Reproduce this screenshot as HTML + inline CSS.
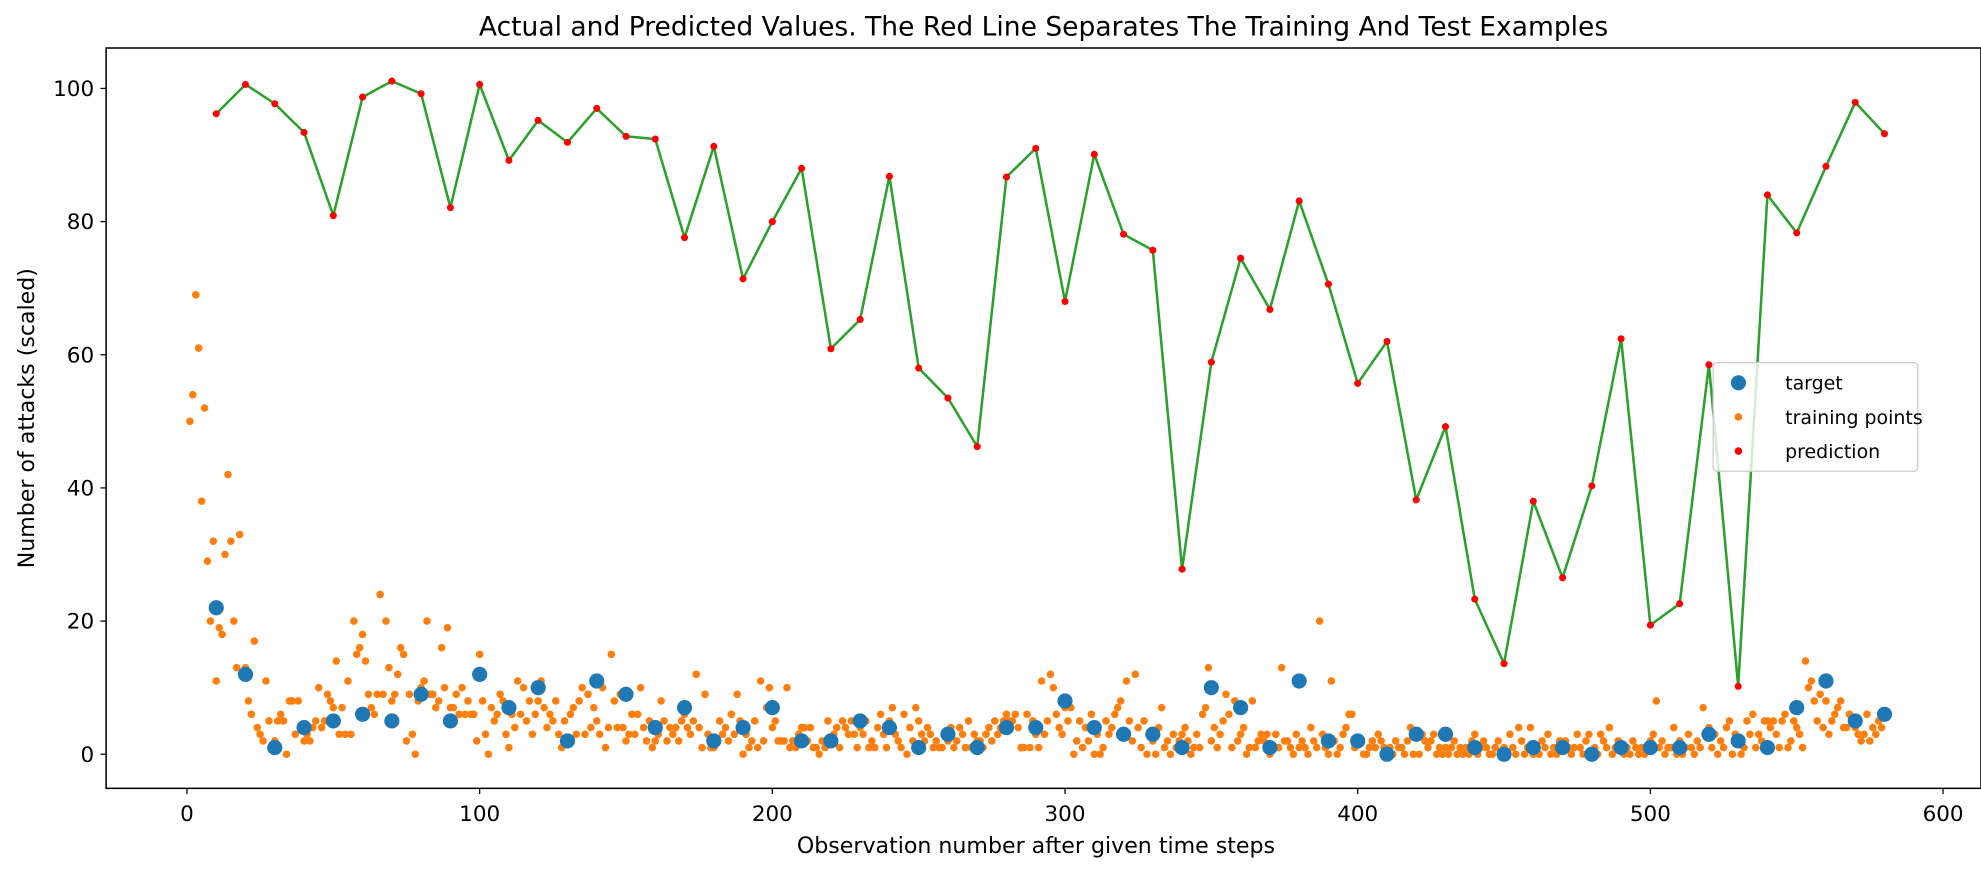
<!DOCTYPE html>
<html><head><meta charset="utf-8"><style>
html,body{margin:0;padding:0;background:#fff;}
svg{display:block;font-family:"DejaVu Sans","Liberation Sans",sans-serif;}
</style></head><body>
<svg id="chart" width="1981" height="874" xmlns="http://www.w3.org/2000/svg">
<rect x="0" y="0" width="1981" height="874" fill="#fff"/>
<g id="root" transform="scale(1.26337)">
<text x="826" y="28" text-anchor="middle" font-size="21" fill="#000">Actual and Predicted Values. The Red Line Separates The Training And Test Examples</text>
<g id="plot"></g>
<rect x="84" y="38" width="1484" height="586" fill="none" stroke="#000" stroke-width="1.2"/>
<text x="820" y="675" text-anchor="middle" font-size="17.5">Observation number after given time steps</text>
<text x="27" y="331" text-anchor="middle" font-size="17.5" transform="rotate(-90 27 331)">Number of attacks (scaled)</text>
<g>
<rect x="1356" y="287" width="162" height="86" fill="#fff" fill-opacity="0.8" stroke="#ccc" rx="3"/>
<circle cx="1376" cy="303" r="6" fill="#1f77b4"/>
<text x="1413" y="308.5" font-size="15">target</text>
<circle cx="1376" cy="330" r="3" fill="#ff7f0e"/>
<text x="1413" y="335.5" font-size="15">training points</text>
<circle cx="1376" cy="357" r="3" fill="red"/>
<text x="1413" y="362.5" font-size="15">prediction</text>
</g>
</g>
</svg>
<script>
const xTicks=[0,100,200,300,400,500,600];
const yTicks=[0,20,40,60,80,100];
const testX=[10,20,30,40,50,60,70,80,90,100,110,120,130,140,150,160,170,180,190,200,210,220,230,240,250,260,270,280,290,300,310,320,330,340,350,360,370,380,390,400,410,420,430,440,450,460,470,480,490,500,510,520,530,540,550,560,570,580];
const predicted=[96.2,100.6,97.7,93.4,80.9,98.7,101.1,99.2,82.1,100.6,89.2,95.2,91.9,97.0,92.8,92.4,77.6,91.3,71.4,80.0,88.0,60.9,65.3,86.8,58.0,53.5,46.2,86.7,91.0,68.0,90.1,78.1,75.7,27.8,58.9,74.5,66.8,83.1,70.6,55.7,62.0,38.2,49.2,23.3,13.6,38.0,26.5,40.3,62.4,19.4,22.6,58.5,10.2,84.0,78.3,88.3,97.9,93.2];
const target=[22,12,1,4,5,6,5,9,5,12,7,10,2,11,9,4,7,2,4,7,2,2,5,4,1,3,1,4,4,8,4,3,3,1,10,7,1,11,2,2,0,3,3,1,0,1,1,0,1,1,1,3,2,1,7,11,5,6];
const training=[50,54,69,61,38,52,29,20,32,11,
19,18,30,42,32,20,13,33,12,13,
8,6,17,4,3,2,11,5,1,2,
5,6,5,0,8,8,3,8,4,2,
3,2,4,5,10,4,5,9,8,7,
14,3,7,3,11,3,20,15,16,18,
14,9,7,6,9,24,9,20,13,8,
9,12,16,15,2,9,3,0,8,10,
11,20,9,9,7,8,16,10,19,7,
7,9,6,10,6,8,6,6,2,15,
8,3,0,7,5,6,9,8,3,1,
6,4,11,6,10,5,8,3,6,8,
11,7,4,6,5,8,3,1,5,2,
6,7,3,8,10,3,9,4,7,5,
3,10,1,4,15,8,4,9,4,2,
3,6,3,6,10,4,2,5,1,2,
3,8,5,2,4,3,4,2,5,6,
4,3,5,12,4,1,9,3,1,1,
2,5,3,4,2,6,3,9,5,0,
3,1,2,5,1,11,2,7,10,4,
5,2,2,2,10,1,2,1,3,4,
4,2,4,1,1,0,2,1,5,2,
3,4,1,5,4,3,5,3,1,4,
3,5,1,2,1,4,6,3,1,5,
7,3,2,1,6,0,4,2,7,5,
3,2,4,3,1,2,1,1,3,2,
4,1,2,4,3,1,5,1,3,2,
2,1,3,4,2,5,3,4,5,6,
5,5,6,4,1,1,6,1,5,3,
1,11,3,5,12,10,6,4,3,7,
5,7,0,2,5,1,4,2,6,0,
3,0,1,5,3,4,6,7,8,3,
11,5,2,12,4,1,5,0,3,2,
0,4,7,1,2,0,3,1,2,3,
4,2,0,1,3,1,6,7,13,2,
4,1,3,5,9,6,1,8,2,3,
4,0,1,8,1,2,3,2,3,0,
1,3,1,13,2,2,1,0,3,1,
2,1,0,4,2,1,20,3,1,0,
11,2,0,1,3,4,6,6,1,2,
2,0,0,1,2,1,3,2,1,0,
1,0,2,1,1,0,2,4,0,3,
0,3,2,1,2,3,0,1,0,1,
0,1,2,0,1,0,1,0,2,3,
0,1,2,1,0,0,1,2,0,1,
0,3,1,0,4,2,0,1,4,0,
1,0,2,1,3,0,1,0,2,1,
2,1,0,1,3,1,0,2,3,0,
1,0,3,2,1,4,0,1,2,1,
0,1,0,2,1,0,1,0,1,2,
3,8,1,2,0,1,1,4,0,2,
0,1,3,1,0,2,1,7,3,4,
1,3,0,2,1,4,5,0,3,2,
0,1,5,3,6,1,3,2,5,5,
4,5,3,1,5,6,1,2,5,4,
3,1,14,10,11,8,5,9,4,8,
3,5,6,7,8,4,4,6,5,4,
3,2,3,6,2,4,3,5,4,6];

const NS='http://www.w3.org/2000/svg';
const sx=v=>148+v*(1538-148)/600;
const sy=v=>597-v*5.27;
const root=document.getElementById('root');
const plot=document.getElementById('plot');
function mk(tag,attrs,parent){const e=document.createElementNS(NS,tag);for(const k in attrs)e.setAttribute(k,attrs[k]);parent.appendChild(e);return e;}

for(const t of xTicks){
  const l=mk('line',{x1:sx(t),x2:sx(t),y1:624,y2:628.5,stroke:'#000'},root);
  
  
  const tx=mk('text',{x:sx(t),y:650,'text-anchor':'middle','font-size':17},root);
  tx.textContent=String(t);
  
  
}
for(const t of yTicks){
  const l=mk('line',{x1:79.5,x2:84,y1:sy(t),y2:sy(t),stroke:'#000'},root);
  
  
  const tx=mk('text',{x:74.5,y:sy(t)+6,'text-anchor':'end','font-size':17},root);
  tx.textContent=String(t);
  
  
}
training.forEach((v,i)=>{
  const c=mk('circle',{cx:sx(i+1),cy:sy(v),r:3,fill:'#ff7f0e'},plot);
  
  
});
target.forEach((v,i)=>{
  const c=mk('circle',{cx:sx(testX[i]),cy:sy(v),r:6,fill:'#1f77b4'},plot);
  
  
});
const pl=mk('polyline',{points:predicted.map((v,i)=>sx(testX[i])+','+sy(v)).join(' '),fill:'none',stroke:'#2ca02c','stroke-width':2},plot);


predicted.forEach((v,i)=>{
  const c=mk('circle',{cx:sx(testX[i]),cy:sy(v),r:2.8,fill:'red'},plot);
  
  
});
</script>
</body></html>
